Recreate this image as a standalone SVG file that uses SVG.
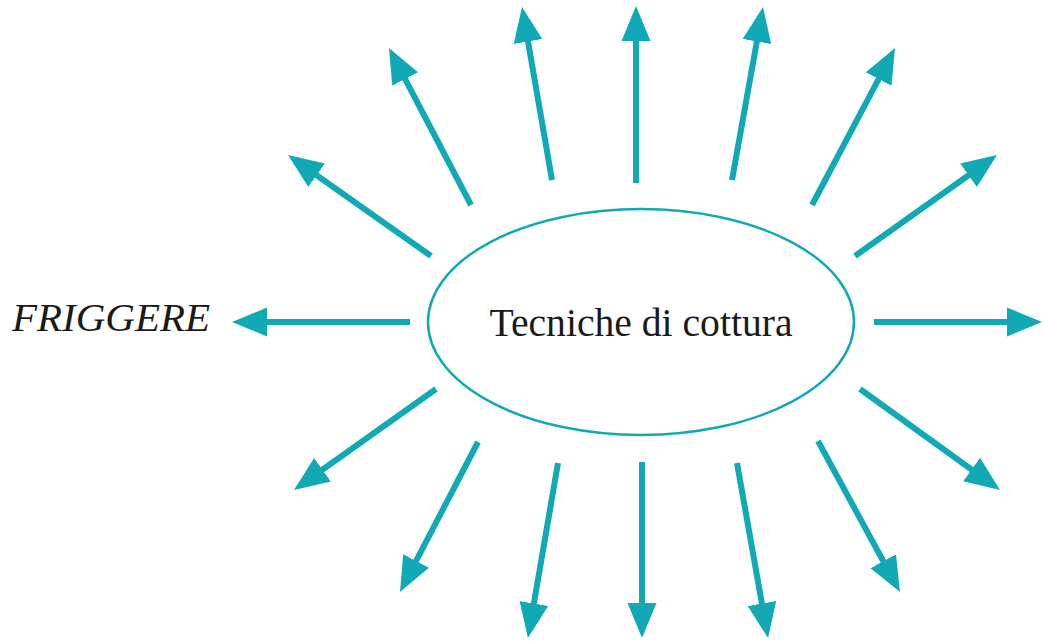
<svg xmlns="http://www.w3.org/2000/svg" width="1044" height="641" viewBox="0 0 1044 641">
<defs>
<marker id="ah" markerUnits="userSpaceOnUse" markerWidth="36" markerHeight="32" refX="20" refY="16" orient="auto">
<path d="M0,1.5 L35,16 L0,30.5 z" fill="#10a9b5"/>
</marker>
<style>
.a{stroke:#10a9b5;stroke-width:6;fill:none;marker-end:url(#ah)}
.t{font-family:"Liberation Serif",serif;fill:#1a1a1a}
</style>
</defs>
<rect width="1044" height="641" fill="#fff"/>
<g id="center">
<ellipse cx="641" cy="322" rx="213" ry="113" fill="#fff" stroke="#10a9b5" stroke-width="2.5"/>
<text class="t" x="641" y="336" text-anchor="middle" font-size="39" textLength="303" lengthAdjust="spacingAndGlyphs">Tecniche di cottura</text>
</g>
<g id="friggere">
<text class="t" x="12" y="331" font-size="40" font-style="italic" textLength="198" lengthAdjust="spacingAndGlyphs">FRIGGERE</text>
</g>
<g id="connectors">
<line class="a" x1="410" y1="322" x2="247" y2="322"/>
<line class="a" x1="874" y1="322" x2="1027" y2="322"/>
<line class="a" x1="636" y1="183" x2="636" y2="21"/>
<line class="a" x1="642" y1="462" x2="642" y2="623"/>
<line class="a" x1="552" y1="180" x2="524.6" y2="21.8"/>
<line class="a" x1="732" y1="180" x2="760.4" y2="21.8"/>
<line class="a" x1="558" y1="463" x2="530.5" y2="623.2"/>
<line class="a" x1="737" y1="463" x2="765.4" y2="623.2"/>
<line class="a" x1="471" y1="205" x2="395.9" y2="61.3"/>
<line class="a" x1="812" y1="205" x2="888" y2="61.3"/>
<line class="a" x1="431" y1="256" x2="300.3" y2="163.7"/>
<line class="a" x1="855" y1="256" x2="984.8" y2="163.7"/>
<line class="a" x1="436" y1="389" x2="306.2" y2="481.3"/>
<line class="a" x1="860" y1="389" x2="987.8" y2="481.2"/>
<line class="a" x1="478" y1="442" x2="406.9" y2="578.7"/>
<line class="a" x1="818" y1="441" x2="892.8" y2="578.8"/>
</g>
</svg>
